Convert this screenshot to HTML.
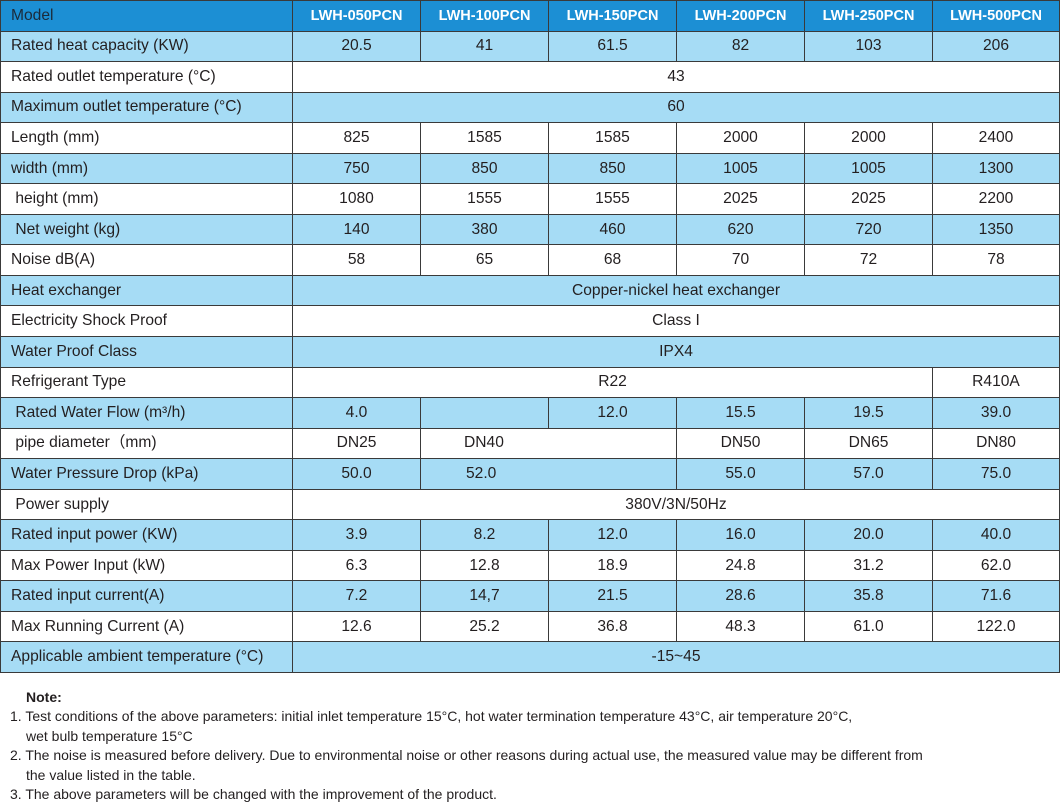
<!DOCTYPE html>
<html><head><meta charset="utf-8"><style>
body{margin:0;width:1060px;height:802px;background:#fff;font-family:"Liberation Sans",Arial,sans-serif;color:#231f20;overflow:hidden}
table{position:absolute;left:0;top:0;border-collapse:collapse;table-layout:fixed;width:1059px}
tr{height:30.55px}
td{border:1.5px solid #3a3a3a;padding:0;text-align:center;font-size:15.6px;line-height:16px;white-space:nowrap}
td.l{text-align:left;padding-left:10px}
tr.h td{background:#1c8fd4;color:#fff;font-weight:bold;font-size:14.5px}
tr.h td.l{color:#1b2a3a;font-weight:normal;font-size:15.6px}
tr.b td{background:#a6dcf5}
.notes{position:absolute;left:10px;top:688px;font-size:14px;line-height:19.4px;color:#231f20}
.notes .i{padding-left:16px}
</style></head><body>
<table>
<colgroup><col style="width:292px"><col style="width:128px"><col style="width:128px"><col style="width:128px"><col style="width:128px"><col style="width:128px"><col style="width:127px"></colgroup>
<tr class="h"><td class="l">Model</td><td>LWH-050PCN</td><td>LWH-100PCN</td><td>LWH-150PCN</td><td>LWH-200PCN</td><td>LWH-250PCN</td><td>LWH-500PCN</td></tr>
<tr class="b"><td class="l">Rated heat capacity (KW)</td><td>20.5</td><td>41</td><td>61.5</td><td>82</td><td>103</td><td>206</td></tr>
<tr><td class="l">Rated outlet temperature (°C)</td><td colspan="6">43</td></tr>
<tr class="b"><td class="l">Maximum outlet temperature (°C)</td><td colspan="6">60</td></tr>
<tr><td class="l">Length (mm)</td><td>825</td><td>1585</td><td>1585</td><td>2000</td><td>2000</td><td>2400</td></tr>
<tr class="b"><td class="l">width (mm)</td><td>750</td><td>850</td><td>850</td><td>1005</td><td>1005</td><td>1300</td></tr>
<tr><td class="l">&nbsp;height (mm)</td><td>1080</td><td>1555</td><td>1555</td><td>2025</td><td>2025</td><td>2200</td></tr>
<tr class="b"><td class="l">&nbsp;Net weight (kg)</td><td>140</td><td>380</td><td>460</td><td>620</td><td>720</td><td>1350</td></tr>
<tr><td class="l">Noise dB(A)</td><td>58</td><td>65</td><td>68</td><td>70</td><td>72</td><td>78</td></tr>
<tr class="b"><td class="l">Heat exchanger</td><td colspan="6">Copper-nickel heat exchanger</td></tr>
<tr><td class="l">Electricity Shock Proof</td><td colspan="6">Class I</td></tr>
<tr class="b"><td class="l">Water Proof Class</td><td colspan="6">IPX4</td></tr>
<tr><td class="l">Refrigerant Type</td><td colspan="5">R22</td><td>R410A</td></tr>
<tr class="b"><td class="l">&nbsp;Rated Water Flow (m³/h)</td><td>4.0</td><td></td><td>12.0</td><td>15.5</td><td>19.5</td><td>39.0</td></tr>
<tr><td class="l">&nbsp;pipe diameter（mm)</td><td>DN25</td><td colspan="2" style="text-align:left;padding-left:43px">DN40</td><td>DN50</td><td>DN65</td><td>DN80</td></tr>
<tr class="b"><td class="l">Water Pressure Drop (kPa)</td><td>50.0</td><td colspan="2" style="text-align:left;padding-left:45px">52.0</td><td>55.0</td><td>57.0</td><td>75.0</td></tr>
<tr><td class="l">&nbsp;Power supply</td><td colspan="6">380V/3N/50Hz</td></tr>
<tr class="b"><td class="l">Rated input power (KW)</td><td>3.9</td><td>8.2</td><td>12.0</td><td>16.0</td><td>20.0</td><td>40.0</td></tr>
<tr><td class="l">Max Power Input (kW)</td><td>6.3</td><td>12.8</td><td>18.9</td><td>24.8</td><td>31.2</td><td>62.0</td></tr>
<tr class="b"><td class="l">Rated input current(A)</td><td>7.2</td><td>14,7</td><td>21.5</td><td>28.6</td><td>35.8</td><td>71.6</td></tr>
<tr><td class="l">Max Running Current (A)</td><td>12.6</td><td>25.2</td><td>36.8</td><td>48.3</td><td>61.0</td><td>122.0</td></tr>
<tr class="b"><td class="l">Applicable ambient temperature (°C)</td><td colspan="6">-15~45</td></tr>
</table>
<div class="notes">
<div class="i"><b>Note:</b></div>
<div>1. Test conditions of the above parameters: initial inlet temperature 15°C, hot water termination temperature 43°C, air temperature 20°C,</div>
<div class="i">wet bulb temperature 15°C</div>
<div>2. The noise is measured before delivery. Due to environmental noise or other reasons during actual use, the measured value may be different from</div>
<div class="i">the value listed in the table.</div>
<div>3. The above parameters will be changed with the improvement of the product.</div>
</div>
</body></html>
